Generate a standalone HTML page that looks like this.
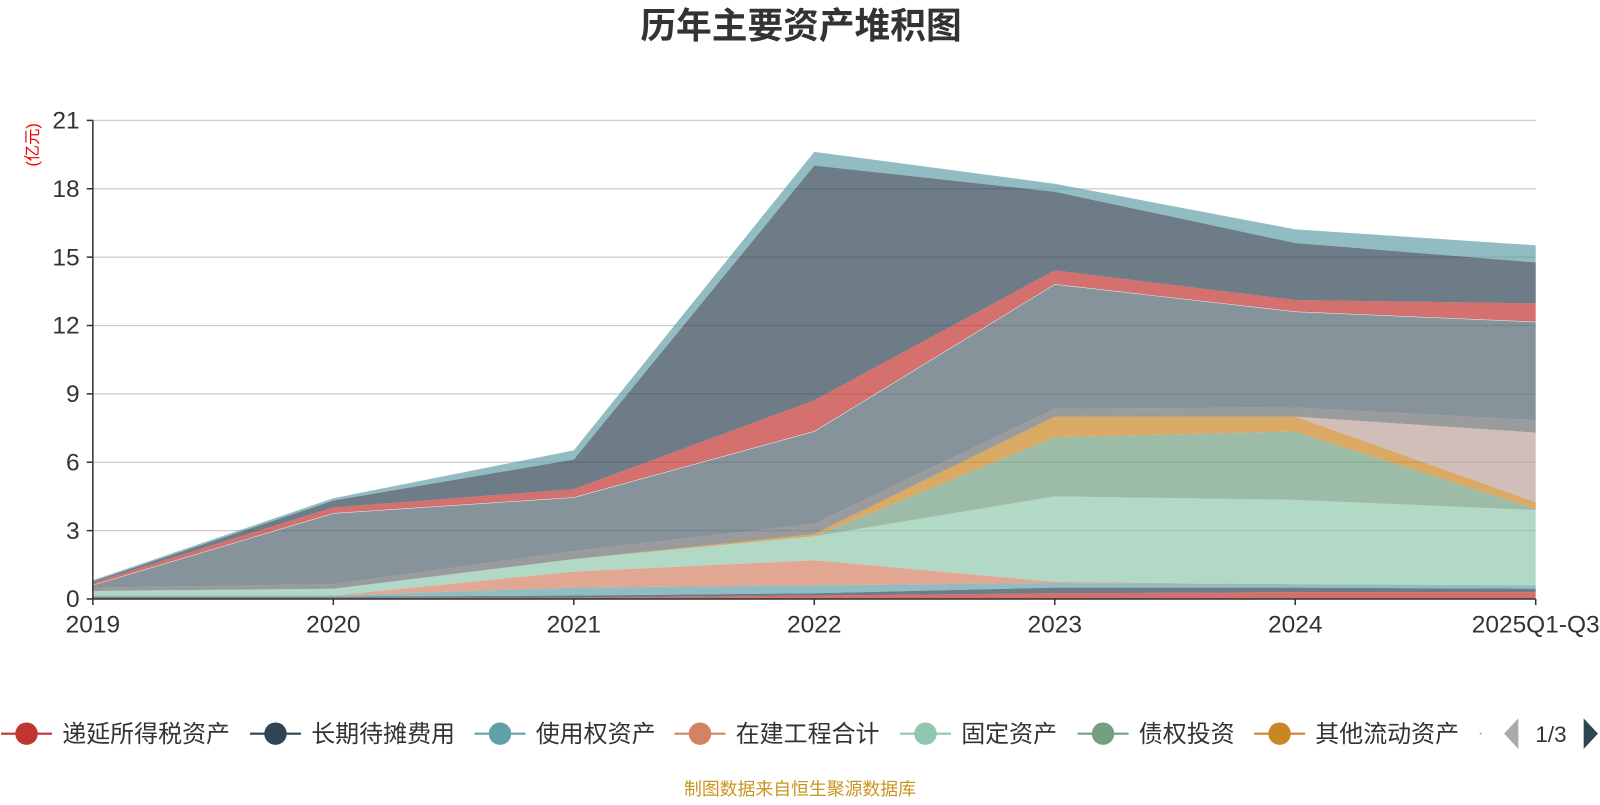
<!DOCTYPE html>
<html><head><meta charset="utf-8">
<style>
html,body{margin:0;padding:0;background:#fff;}
body{width:1600px;height:800px;overflow:hidden;font-family:"Liberation Sans","Noto Sans CJK SC",sans-serif;}
svg text{font-family:"Liberation Sans","Noto Sans CJK SC",sans-serif;}
</style></head>
<body>
<svg id="chart" width="1600" height="800" viewBox="0 0 1600 800">
 <g transform="scale(1.0204)">
  <text x="785" y="37" text-anchor="middle" font-size="35" font-weight="bold" fill="#333">历年主要资产堆积图</text>
  <text transform="translate(37,142) rotate(-90)" text-anchor="middle" font-size="16" fill="#e00">(亿元)</text>
  <g id="grid"></g>
  <g id="areas"></g>
  <g id="axes"></g>
  <g id="legend"></g>
  <text x="784" y="779" text-anchor="middle" font-size="17.5" fill="#c8961e">制图数据来自恒生聚源数据库</text>
 </g>
</svg>
<script>
const categories = ["2019","2020","2021","2022","2023","2024","2025Q1-Q3"];
const yTicks = [0,3,6,9,12,15,18,21];
const seriesNames = ["递延所得税资产","长期待摊费用","使用权资产","在建工程合计","固定资产","债权投资","其他流动资产","其他非流动资产","长期股权投资","货币资金","交易性金融资产","应收账款","存货","其他"];
const seriesColors = ["#c23531","#2f4554","#61a0a8","#d48265","#91c7ae","#749f83","#ca8622","#bda29a","#6e7074","#546570","#c4ccd3","#c23531","#2f4554","#61a0a8"];
const s1 = [0.05,0.05,0.05,0.15,0.25,0.3,0.3];
const s2 = [0.05,0.05,0.1,0.1,0.25,0.2,0.15];
const s3 = [0.05,0.05,0.35,0.35,0.2,0.15,0.15];
const s4 = [0,0,0.7,1.1,0.05,0,0];
const s5 = [0.2,0.3,0.55,1.05,3.75,3.7,3.3];
const s6 = [0,0,0,0,2.6,3.0,0.05];
const s7 = [0,0,0,0.1,0.9,0.65,0.3];
const s8 = [0,0,0,0,0,0,3.05];
const s9 = [0.15,0.2,0.35,0.45,0.35,0.4,0.55];
const s10 = [0.1,3.1,2.35,4.05,5.45,4.2,4.3];
const s11 = [0.02,0.02,0.02,0.02,0.02,0.02,0.02];
const s12 = [0.1,0.25,0.35,1.35,0.6,0.5,0.8];
const s13 = [0.05,0.3,1.3,10.3,3.45,2.5,1.8];
const s14 = [0.05,0.1,0.4,0.6,0.35,0.6,0.75];
const seriesValues = [s1,s2,s3,s4,s5,s6,s7,s8,s9,s10,s11,s12,s13,s14];

const NS="http://www.w3.org/2000/svg";
const X0=91,X1=1505,Y0=587,Y1=118,YMAX=21;
const xPos=i=>X0+(X1-X0)*i/(categories.length-1);
const yPos=v=>Y0-(Y0-Y1)*v/YMAX;
function mk(tag,attrs,parent){const e=document.createElementNS(NS,tag);for(const k in attrs)e.setAttribute(k,attrs[k]);parent.appendChild(e);return e;}
const grid=document.getElementById('grid'),areas=document.getElementById('areas'),axes=document.getElementById('axes'),legend=document.getElementById('legend');

yTicks.forEach(t=>{
  if(t>0){const g=mk('line',{x1:X0,x2:X1,y1:yPos(t),y2:yPos(t),stroke:'#ccc','stroke-width':1.2},grid);
  
  }
  const tk=mk('line',{x1:X0-6,x2:X0,y1:yPos(t),y2:yPos(t),stroke:'#333','stroke-width':1.5},axes);
  
  
  const lb=mk('text',{x:X0-13,y:yPos(t)+8,'text-anchor':'end','font-size':24,fill:'#333'},axes);
  lb.textContent=t;
  
  
});
const ya=mk('line',{x1:X0,x2:X0,y1:Y1,y2:Y0,stroke:'#333','stroke-width':1.5},axes);


const xa=mk('line',{x1:X0,x2:X1,y1:Y0,y2:Y0,stroke:'#333','stroke-width':1.5},axes);


categories.forEach((c,i)=>{
  const tk=mk('line',{x1:xPos(i),x2:xPos(i),y1:Y0,y2:Y0+6,stroke:'#333','stroke-width':1.5},axes);
  
  
  const lb=mk('text',{x:xPos(i),y:Y0+33,'text-anchor':'middle','font-size':24,fill:'#333'},axes);
  lb.textContent=c;
  
  
});

let base=categories.map(()=>0);
seriesValues.forEach((vals,si)=>{
  const top=base.map((b,i)=>b+vals[i]);
  let d='M'+top.map((v,i)=>xPos(i)+','+yPos(v)).join(' L');
  for(let i=categories.length-1;i>=0;i--) d+=' L'+xPos(i)+','+yPos(base[i]);
  d+=' Z';
  const p=mk('path',{d:d,fill:seriesColors[si],'fill-opacity':0.7,stroke:'none'},areas);
  
  
  if(si===10){
    const l=mk('polyline',{points:top.map((v,i)=>xPos(i)+','+yPos(v)).join(' '),fill:'none',stroke:'#dde2e6','stroke-width':1.2},areas);
    
    
  }
  base=top;
});

const legendX=[26,270,490,686,907,1081,1254];
for(let i=0;i<7;i++){
  const g=mk('g',{},legend);
  
  
  mk('line',{x1:legendX[i]-25,x2:legendX[i]+25,y1:719,y2:719,stroke:seriesColors[i],'stroke-width':2},g);
  mk('circle',{cx:legendX[i],cy:719,r:11,fill:seriesColors[i]},g);
  const t=mk('text',{x:legendX[i]+35,y:727,'font-size':23.5,fill:'#333'},g);
  t.textContent=seriesNames[i];
}
const dot=mk('circle',{cx:1451,cy:719,r:1,fill:'#bda29a'},legend);


const prev=mk('path',{d:'M1474,719 L1488,704 L1488,734 Z',fill:'#aaa'},legend);


const pg=mk('text',{x:1520,y:727,'text-anchor':'middle','font-size':22,fill:'#333'},legend);
pg.textContent='1/3';


const next=mk('path',{d:'M1552,704 L1566,719 L1552,734 Z',fill:'#2f4554'},legend);


</script>
</body></html>
